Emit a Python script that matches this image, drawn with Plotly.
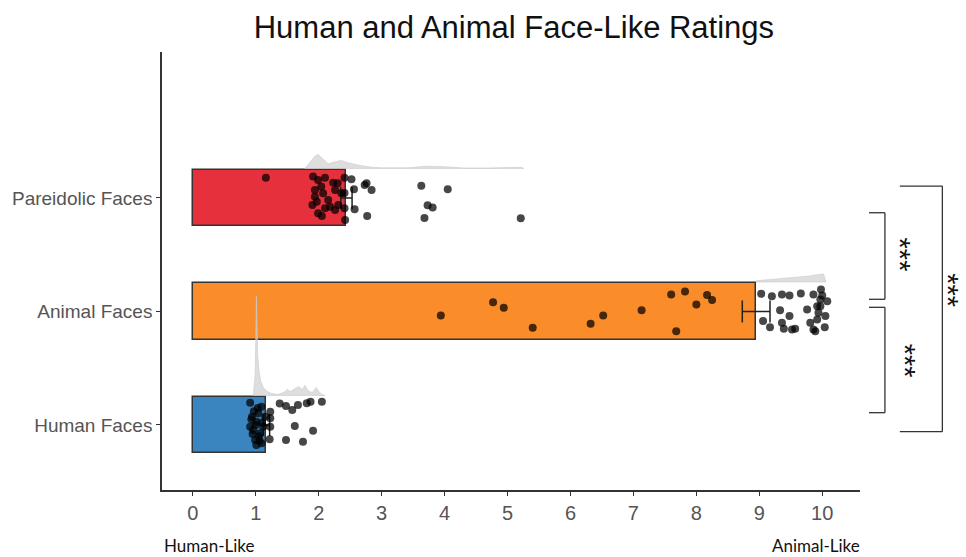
import plotly.graph_objects as go

# ---------------- data ----------------
categories = ["Human Faces", "Animal Faces", "Pareidolic Faces"]
means = [1.17, 8.95, 2.44]
errors = [0.05, 0.22, 0.09]
bar_colors = ["#3A84C0", "#FB8C2A", "#E6313D"]

human_x = [0.91, 1.09, 1.23, 1.23, 1.23, 1.22, 0.94, 1.01, 0.96, 1.07, 0.99, 1.09, 0.91, 1.04,
           1.15, 1.12, 1.01, 1.48, 1.58, 1.67, 1.81, 1.87, 2.05, 1.62, 1.91, 1.48, 1.75, 1.38,
           0.97, 1.05, 1.00, 1.10, 0.95, 1.03, 1.06, 0.93]
human_jit = [0.196, 0.161, 0.117, 0.059, -0.015, -0.126, 0.073, 0.029, -0.044, -0.073, -0.132,
             -0.161, -0.015, 0.103, 0.073, -0.015, -0.176, 0.167, 0.132, 0.176, 0.191, 0.205,
             0.205, -0.009, -0.050, -0.132, -0.147, 0.190, 0.120, -0.100, 0.000, 0.020, -0.080,
             0.150, -0.140, 0.050]

animal_x = [4.77, 4.94, 5.40, 6.32, 6.52, 7.13, 7.60, 7.82, 8.00, 8.17, 8.25, 7.68, 3.94,
            9.03, 9.20, 9.36, 9.48, 9.66, 9.86, 9.98, 10.08, 9.33, 9.48, 9.76, 9.92, 10.05,
            9.06, 9.17, 9.36, 9.39, 9.52, 9.57, 9.81, 9.86, 10.04, 9.97, 9.94, 9.89, 9.97,
            9.92, 10.00]
animal_jit = [0.082, 0.033, -0.144, -0.108, -0.035, 0.011, 0.150, 0.176, 0.062, 0.144, 0.100,
              -0.174, -0.035, 0.156, 0.135, 0.150, 0.141, 0.159, 0.150, 0.194, 0.091, 0.011,
              -0.041, 0.018, 0.047, -0.041, -0.085, -0.138, -0.100, -0.152, -0.159, -0.152,
              -0.100, -0.159, -0.138, 0.106, -0.011, -0.174, 0.047, -0.070, 0.140]

pareidolic_x = [1.16, 1.91, 1.99, 2.10, 2.23, 1.94, 2.07, 2.26, 2.41, 2.52, 2.56, 1.90, 1.99,
                2.10, 2.26, 2.31, 2.41, 2.42, 2.57, 2.76, 2.84, 2.73, 2.77, 3.63, 4.05, 3.73,
                3.81, 3.68, 5.21, 1.94, 2.15, 2.36, 2.04, 2.18, 1.97, 2.41, 2.05, 2.30]
pareidolic_jit = [0.179, 0.188, 0.159, 0.179, 0.135, 0.070, 0.041, 0.070, 0.179, 0.165, 0.077,
                  -0.062, -0.135, -0.091, -0.106, -0.062, -0.091, -0.194, -0.100, 0.130, 0.070,
                  0.115, -0.159, 0.108, 0.077, -0.064, -0.085, -0.176, -0.179, 0.011, -0.018,
                  0.041, 0.100, -0.077, -0.033, 0.044, -0.160, 0.130]

# density outlines (x position, relative density height)
human_dens_x = [0.96, 0.99, 1.00, 1.01, 1.02, 1.03, 1.05, 1.08, 1.12, 1.18, 1.25, 1.35, 1.45,
                1.50, 1.55, 1.62, 1.68, 1.74, 1.78, 1.84, 1.90, 1.96, 2.00, 2.05, 2.10]
human_dens = [0, 20, 55, 99, 70, 40, 25, 14, 8, 4, 2, 1, 3, 6, 4, 7, 9, 6, 10, 4, 3, 8, 4, 1, 0]
animal_dens_x = [8.95, 9.20, 9.50, 9.80, 9.95, 10.02, 10.06]
animal_dens = [1.2, 2.5, 4.0, 6.0, 7.5, 8.0, 0]
pareidolic_dens_x = [1.78, 1.86, 1.94, 1.99, 2.07, 2.15, 2.26, 2.36, 2.47, 2.63, 2.84, 3.00,
                     3.42, 3.73, 4.05, 4.30, 4.70, 5.10, 5.21, 5.26]
pareidolic_dens = [0, 5.6, 12.3, 14, 9, 4.6, 6.6, 8, 5.6, 3.3, 1.3, 0.6, 0.6, 2.3, 1.5, 0.4,
                   0.4, 1.2, 1.2, 0]

x_ticks = list(range(0, 11))

# ---------------- figure ----------------
DENS_SCALE = 1 / 113.5
DENS_BASE = 0.26

fig = go.Figure()

fig.add_trace(go.Bar(
    y=[0, 1, 2], x=means, orientation="h", width=0.5,
    marker=dict(color=bar_colors, line=dict(color="#333333", width=1.5)),
    error_x=dict(type="data", array=errors, color="#222222", thickness=1.5, width=11),
    showlegend=False,
))

for pos, dx, dh in [(0, human_dens_x, human_dens),
                    (1, animal_dens_x, animal_dens),
                    (2, pareidolic_dens_x, pareidolic_dens)]:
    xs = list(dx) + list(reversed(dx))
    ys = [pos + DENS_BASE + h * DENS_SCALE for h in dh] + [pos + DENS_BASE] * len(dx)
    fig.add_trace(go.Scatter(
        x=xs, y=ys, mode="lines", fill="toself",
        fillcolor="rgba(205,205,205,0.65)",
        line=dict(color="rgba(205,205,205,0.65)", width=1),
        showlegend=False, hoverinfo="skip",
    ))

for pos, px_, pj in [(0, human_x, human_jit), (1, animal_x, animal_jit),
                     (2, pareidolic_x, pareidolic_jit)]:
    fig.add_trace(go.Scatter(
        x=px_, y=[pos + j for j in pj], mode="markers",
        marker=dict(size=8, color="rgba(0,0,0,0.72)", line=dict(width=0)),
        showlegend=False,
    ))

# significance brackets (paper coords)
def bracket(x_tick, x_vert, y0, y1):
    for (xa, ya, xb, yb) in [(x_tick, y0, x_vert, y0), (x_vert, y0, x_vert, y1),
                             (x_tick, y1, x_vert, y1)]:
        fig.add_shape(type="line", xref="paper", yref="paper", x0=xa, y0=ya, x1=xb, y1=yb,
                      line=dict(color="#333333", width=1.3))

bracket(1.0129, 1.0357, 0.633, 0.4354)
bracket(1.0129, 1.0357, 0.4171, 0.1765)
bracket(1.0571, 1.118, 0.694, 0.1331)

for xp, yp in [(1.057, 0.538), (1.064, 0.296), (1.127, 0.457)]:
    fig.add_annotation(xref="paper", yref="paper", x=xp, y=yp, text="***", showarrow=False,
                       textangle=90,
                       font=dict(family="Liberation Sans", size=29, color="#111111"),
                       xanchor="center", yanchor="middle")

fig.add_annotation(xref="paper", yref="paper", x=0.0, y=-0.127, text="Human-Like",
                   showarrow=False, xanchor="left", yanchor="middle",
                   font=dict(family="Lato", size=17, color="#111111"))
fig.add_annotation(xref="paper", yref="paper", x=1.003, y=-0.127, text="Animal-Like",
                   showarrow=False, xanchor="right", yanchor="middle",
                   font=dict(family="Lato", size=17, color="#111111"))

fig.update_layout(
    width=966, height=557,
    margin=dict(l=160, r=106, t=52, b=67),
    paper_bgcolor="white", plot_bgcolor="white",
    title=dict(text="Human and Animal Face-Like Ratings", x=0.532, xref="container",
               xanchor="center", y=0.951, yref="container", yanchor="middle",
               font=dict(family="Liberation Sans", size=31, color="#111111")),
    xaxis=dict(range=[-0.49, 10.6], tickvals=x_ticks, showgrid=False, zeroline=False,
               showline=True, linecolor="#333333", linewidth=1.5,
               ticks="outside", ticklen=4, tickcolor="#333333",
               tickfont=dict(family="Liberation Sans", size=20, color="#555555")),
    yaxis=dict(range=[-0.573, 3.286], tickvals=[0, 1, 2], ticktext=categories,
               showgrid=False, zeroline=False, showline=True, linecolor="#333333",
               linewidth=1.5, ticks="outside", ticklen=4, tickcolor="#333333",
               tickfont=dict(family="Liberation Sans", size=19, color="#555555")),
    bargap=0,
)

fig.write_html("out.html", config={"displayModeBar": False},
               post_script="document.body.style.margin='0';document.body.style.overflow='hidden';")
